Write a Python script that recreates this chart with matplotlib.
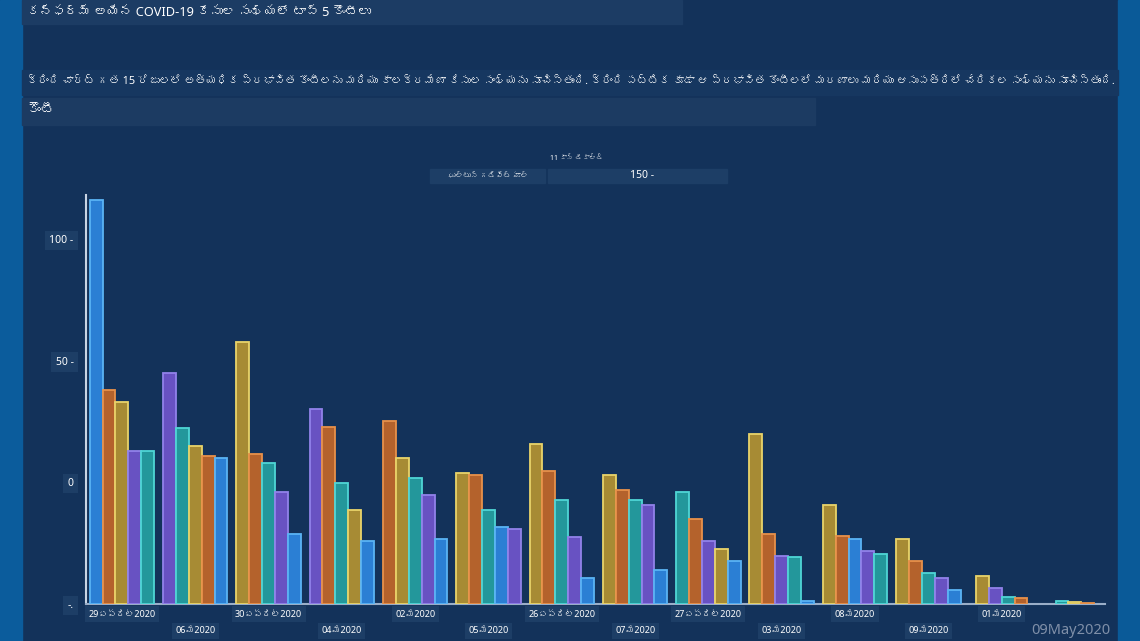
import matplotlib
matplotlib.use('Agg')
import matplotlib.pyplot as plt
import numpy as np
from matplotlib import font_manager, ft2font
from matplotlib.patches import Rectangle


def find_font(ch):
    # first installed family that has a glyph for ch
    for f in font_manager.fontManager.ttflist:
        try:
            if ord(ch) in ft2font.FT2Font(f.fname).get_charmap():
                return f.name
        except Exception:
            pass
    return None


tel = find_font('క')
plt.rcParams['font.family'] = ['Noto Sans', tel] if tel else ['Noto Sans', 'DejaVu Sans']

title = 'కన్ఫర్మ్ అయిన COVID-19 కేసుల సంఖ్యలో టాప్ 5 కౌంటీలు'
desc = ('క్రింది చార్ట్ గత 15 రోజులలో అత్యధిక ప్రభావిత కౌంటీలను మరియు కాలక్రమేణా కేసుల సంఖ్యను సూచిస్తుంది. '
        'క్రింది పట్టిక కూడా ఆ ప్రభావిత కౌంటీలలో మరణాలు మరియు ఆసుపత్రిలో చేరికల సంఖ్యను సూచిస్తుంది.')
subtitle = 'కౌంటీ'

dates = ['29ఏప్రిల్2020', '06మే2020', '30ఏప్రిల్2020', '04మే2020', '02మే2020', '05మే2020',
         '26ఏప్రిల్2020', '07మే2020', '27ఏప్రిల్2020', '03మే2020', '08మే2020', '09మే2020',
         '01మే2020', '']

# values as read against the y axis (bars start from the axis floor at -50)
blue = [116, 10.0, -21.1, -24.3, -23.3, -18.5, -39.2, -36.2, -32.4, -48.6, -23.3, -44.4, None, None]
orange = [37.9, 10.8, 11.8, 22.8, 25.1, 2.9, 4.8, -3.0, -15.2, -21.4, -22.2, -32.4, -47.4, -49.5]
gold = [32.9, 14.9, 57.7, -11.5, 9.9, 3.8, 15.6, 2.8, -27.3, 20.0, -9.3, -23.3, -38.3, -49.3]
purple = [12.9, 44.9, -4.2, 29.9, -5.2, -19.3, -22.3, -9.3, -24.3, -30.4, -28.3, -39.4, -43.3, None]
teal = [12.8, 22.1, 7.9, -0.3, 1.9, -11.4, -7.3, -7.4, -4.2, -30.6, -29.3, -37.3, -47.2, -48.6]

series = [blue, orange, gold, purple, teal]
fills = ['#2b7fd4', '#b4622c', '#a78b34', '#6852c2', '#23979b']
edges = ['#5ab4f5', '#e8914a', '#e9d46a', '#9282ea', '#4fd6d6']

bg = '#13325a'
floor = -50

fig = plt.figure(figsize=(11.4, 6.41), dpi=100, facecolor=bg)

# side strips and header boxes
fig.patches.append(Rectangle((0, 0), 22 / 1140, 1, transform=fig.transFigure, color='#0b5c9c', zorder=0))
fig.patches.append(Rectangle((1118 / 1140, 0), 22 / 1140, 1, transform=fig.transFigure, color='#0a5a98', zorder=0))
fig.patches.append(Rectangle((22 / 1140, 1 - 24 / 641), 660 / 1140, 24 / 641, transform=fig.transFigure,
                             color='#1c3c64', zorder=0))
fig.patches.append(Rectangle((22 / 1140, 1 - 95 / 641), 1096 / 1140, 25 / 641, transform=fig.transFigure,
                             color='#163760', zorder=0))
fig.patches.append(Rectangle((22 / 1140, 1 - 125 / 641), 793 / 1140, 27 / 641, transform=fig.transFigure,
                             color='#1c3b62', zorder=0))
fig.patches.append(Rectangle((430 / 1140, 1 - 183 / 641), 115 / 1140, 14 / 641, transform=fig.transFigure,
                             color='#1d3e66', zorder=0))
fig.patches.append(Rectangle((548 / 1140, 1 - 183 / 641), 179 / 1140, 14 / 641, transform=fig.transFigure,
                             color='#1d3e66', zorder=0))

fig.text(27 / 1140, 1 - 12 / 641, title, color='white', fontsize=9.2, va='center')
fig.text(27 / 1140, 1 - 82 / 641, desc, color='white', fontsize=7.85, va='center')
fig.text(27 / 1140, 1 - 110 / 641, subtitle, color='white', fontsize=10, va='center')
fig.text(577 / 1140, 1 - 158 / 641, '11 కాన్ డికాల్డ్', color='white', fontsize=5, va='center', ha='center')
fig.text(488 / 1140, 1 - 176 / 641, 'ఘుల్టున్ గడివిట్ హూల్', color='white', fontsize=5.5, va='center', ha='center')
fig.text(642 / 1140, 1 - 176 / 641, '150 -', color='white', fontsize=7.5, va='center', ha='center')
fig.text(1110 / 1140, 1 - 631 / 641, '09May2020', color='#7f8fa8', fontsize=10.5, va='center', ha='right')

ax = fig.add_axes([86 / 1140, 37 / 641, 1019 / 1140, 409 / 641])
ax.set_facecolor(bg)

width = 0.176
for g in range(len(dates)):
    bars = [(series[k][g], k) for k in range(5) if series[k][g] is not None]
    bars.sort(key=lambda b: -b[0])
    n = len(bars)
    for j, (v, k) in enumerate(bars):
        x = g + (j - (n - 1) / 2) * width
        ax.bar(x, v - floor, bottom=floor, width=width, color=fills[k], edgecolor=edges[k],
               linewidth=1.3, zorder=3)

ax.set_xlim(-0.49, 13.41)
ax.set_ylim(floor, 118)

for s in ['top', 'right']:
    ax.spines[s].set_visible(False)
ax.spines['left'].set_color('#c8d4e4')
ax.spines['left'].set_linewidth(1.5)
ax.spines['bottom'].set_color('#9aaec8')
ax.spines['bottom'].set_linewidth(1.5)

ax.set_yticks([-50, 0, 50, 100], labels=['-.', '0', '50 -', '100 -'])
ax.tick_params(axis='y', length=0, pad=9, labelcolor='white', labelsize=7.5)
for lab in ax.get_yticklabels():
    lab.set_bbox(dict(facecolor='#1d3e66', edgecolor='none', pad=3))

ax.set_xticks(range(len(dates)), labels=dates)
ax.tick_params(axis='x', length=0, labelcolor='white', labelsize=6.5)
for i, t in enumerate(ax.xaxis.get_major_ticks()):
    t.set_pad(4 if i % 2 == 0 else 16)
    if dates[i]:
        t.label1.set_bbox(dict(facecolor='#1d3e66', edgecolor='none', pad=2.5))

fig.savefig('out.png', dpi=100, facecolor=bg)
